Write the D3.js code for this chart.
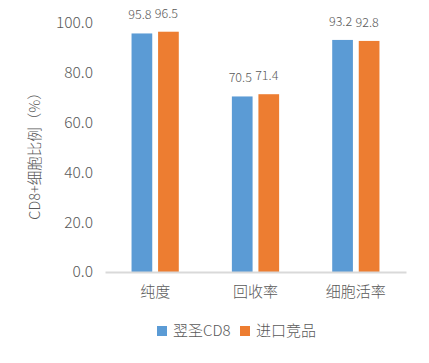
<!DOCTYPE html>
<html><head><meta charset="utf-8">
<script src="https://cdn.jsdelivr.net/npm/d3@7"></script>
<style>body{margin:0;background:#fff}svg{display:block}text{font-family:"Noto Sans CJK SC","Noto Sans",sans-serif;fill:#595959}</style>
</head><body>
<script>
const categories = ["纯度", "回收率", "细胞活率"];
const seriesNames = ["翌圣CD8", "进口竞品"];
const seriesA = [95.8, 70.5, 93.2];
const seriesB = [96.5, 71.4, 92.8];
const yTicks = [0, 20, 40, 60, 80, 100];
const colors = ["#5B9BD5", "#ED7D31"];
const yTitle = "CD8+细胞比例（%）";

const W = 429, H = 363;
const svg = d3.select("body").append("svg").attr("width", W).attr("height", H);
const m = {left: 105, right: 23, top: 23, bottom: 91};
const x = d3.scaleBand().domain(categories).range([m.left, W - m.right]).paddingInner(0).paddingOuter(0);
const y = d3.scaleLinear().domain([0, 100]).range([H - m.bottom, m.top]);
const x1 = d3.scaleBand().domain([0, 1]).range([0, x.bandwidth()]).paddingInner(0.22).paddingOuter(1.0);

const data = categories.map((c, i) => ({c, v: [seriesA[i], seriesB[i]]}));

// y tick labels
const yAxis = d3.axisLeft(y).tickValues(yTicks).tickFormat(d3.format(".1f")).tickSize(0).tickPadding(12);
const ga = svg.append("g").attr("transform", `translate(${m.left},0)`).call(yAxis);
ga.select(".domain").remove();
ga.selectAll("text").attr("font-size", 15.5).attr("font-weight", 300).style("font-family", '"Noto Sans CJK SC",sans-serif').attr("fill", "#595959");

// bars
const g = svg.append("g");
data.forEach(d => {
  d.v.forEach((v, j) => {
    const bx = x(d.c) + x1(j);
    g.append("rect").attr("x", bx).attr("y", y(v)).attr("width", x1.bandwidth()).attr("height", y(0) - y(v)).attr("fill", colors[j]);
    g.append("text").attr("x", bx + x1.bandwidth() / 2 - 2).attr("y", y(v) - 14)
      .attr("text-anchor", "middle").attr("font-size", 12.5).attr("font-weight", 300).attr("fill", "#404040").text(v.toFixed(1));
  });
});

// x axis
const xAxis = d3.axisBottom(x).tickSize(0).tickPadding(14);
const gx = svg.append("g").attr("transform", `translate(0,${y(0)})`).call(xAxis);
gx.select(".domain").attr("stroke", "#D9D9D9").attr("stroke-width", 2);
gx.selectAll("text").attr("font-size", 15).attr("font-weight", 300).style("font-family", '"Noto Sans CJK SC",sans-serif').attr("fill", "#595959");

// y title
svg.append("text").attr("transform", `translate(40,${(m.top + y(0)) / 2 + 5}) rotate(-90)`)
  .attr("text-anchor", "middle").attr("font-size", 14.5).attr("font-weight", 300).text(yTitle);

// legend
const lg = svg.append("g").attr("transform", "translate(157,326)");
const offsets = [0, 83];
seriesNames.forEach((s, i) => {
  lg.append("rect").attr("x", offsets[i]).attr("y", 0).attr("width", 10).attr("height", 10).attr("fill", colors[i]);
  lg.append("text").attr("x", offsets[i] + 16).attr("y", 5).attr("dy", "0.35em").attr("font-size", 15).attr("font-weight", 300).text(s);
});
</script>
</body></html>
